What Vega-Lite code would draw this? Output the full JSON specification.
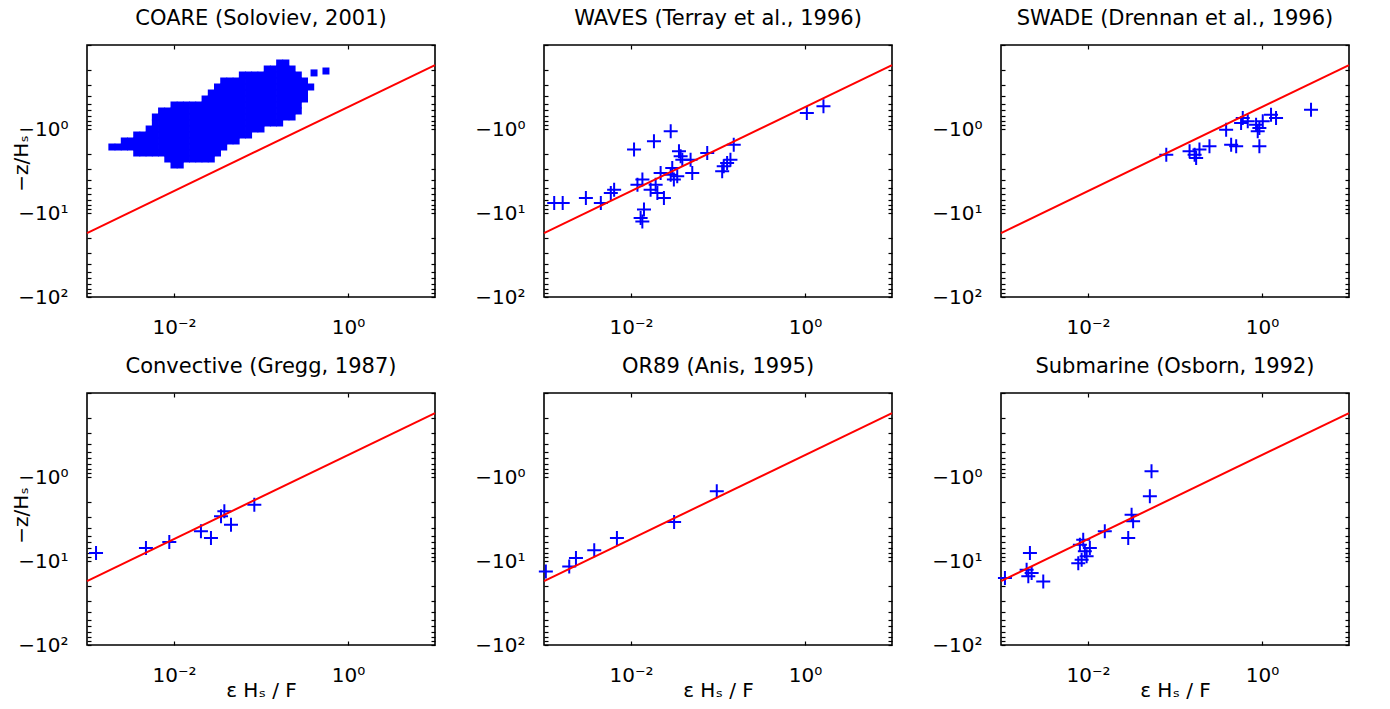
{
 "$schema": "https://vega.github.io/schema/vega-lite/v6.json",
 "padding": {"left": 10, "top": 7, "right": 0, "bottom": 0},
 "background": "white",
 "config": {
  "view": {"stroke": "black", "strokeWidth": 1.6},
  "axis": {"domain": false, "grid": false, "ticks": true, "tickSize": -4, "tickColor": "black", "tickWidth": 1.2,
           "labelFont": "DejaVu Sans", "labelFontSize": 20, "labelColor": "black", "labelOverlap": false,
           "titleFont": "DejaVu Sans", "titleFontSize": 20, "titleFontWeight": "normal", "titleColor": "black"},
  "axisX": {"labelPadding": 24},
  "axisY": {"labelPadding": 23},
  "title": {"font": "DejaVu Sans", "fontSize": 21, "fontWeight": "normal", "color": "black", "offset": 6, "anchor": "middle"}
 },
 "datasets": {
  "line": [{"x": 0.001, "y": 17.32}, {"x": 10, "y": 0.1732}],
  "pts": [
   {"p":"WAVES","x":0.00131,"y":7.6},{"p":"WAVES","x":0.00164,"y":7.6},{"p":"WAVES","x":0.00303,"y":6.63},{"p":"WAVES","x":0.0045,"y":7.6},
   {"p":"WAVES","x":0.00586,"y":5.78},{"p":"WAVES","x":0.0064,"y":5.27},{"p":"WAVES","x":0.01084,"y":1.76},{"p":"WAVES","x":0.01836,"y":1.40},
   {"p":"WAVES","x":0.0286,"y":1.06},{"p":"WAVES","x":0.01186,"y":4.6},{"p":"WAVES","x":0.01352,"y":4.0},{"p":"WAVES","x":0.0141,"y":9.1},
   {"p":"WAVES","x":0.0129,"y":11.5},{"p":"WAVES","x":0.0135,"y":12.6},{"p":"WAVES","x":0.0168,"y":5.27},{"p":"WAVES","x":0.0192,"y":4.6},
   {"p":"WAVES","x":0.0201,"y":5.78},{"p":"WAVES","x":0.0239,"y":6.63},{"p":"WAVES","x":0.0219,"y":3.34},{"p":"WAVES","x":0.0286,"y":3.5},
   {"p":"WAVES","x":0.0311,"y":4.0},{"p":"WAVES","x":0.034,"y":3.66},{"p":"WAVES","x":0.0298,"y":2.91},{"p":"WAVES","x":0.0356,"y":1.84},
   {"p":"WAVES","x":0.0372,"y":2.11},{"p":"WAVES","x":0.0389,"y":2.32},{"p":"WAVES","x":0.0484,"y":2.32},{"p":"WAVES","x":0.0506,"y":3.34},
   {"p":"WAVES","x":0.0752,"y":1.93},{"p":"WAVES","x":0.1164,"y":2.78},{"p":"WAVES","x":0.1273,"y":2.54},{"p":"WAVES","x":0.1117,"y":3.19},
   {"p":"WAVES","x":0.139,"y":2.32},{"p":"WAVES","x":0.1517,"y":1.54},{"p":"WAVES","x":1.05,"y":0.645},{"p":"WAVES","x":1.63,"y":0.537},
   {"p":"SWADE","x":0.0794,"y":2.02},{"p":"SWADE","x":0.147,"y":1.84},{"p":"SWADE","x":0.168,"y":2.02},{"p":"SWADE","x":0.175,"y":2.21},
   {"p":"SWADE","x":0.191,"y":1.76},{"p":"SWADE","x":0.249,"y":1.61},{"p":"SWADE","x":0.387,"y":1.02},{"p":"SWADE","x":0.442,"y":1.54},
   {"p":"SWADE","x":0.505,"y":1.61},{"p":"SWADE","x":0.601,"y":0.74},{"p":"SWADE","x":0.686,"y":0.81},{"p":"SWADE","x":0.575,"y":0.85},
   {"p":"SWADE","x":0.855,"y":0.889},{"p":"SWADE","x":0.933,"y":0.973},{"p":"SWADE","x":1.02,"y":0.81},{"p":"SWADE","x":0.893,"y":1.06},
   {"p":"SWADE","x":0.933,"y":1.61},{"p":"SWADE","x":1.27,"y":0.676},{"p":"SWADE","x":1.45,"y":0.74},{"p":"SWADE","x":3.66,"y":0.589},
   {"p":"CONV","x":0.00127,"y":8.03},{"p":"CONV","x":0.00476,"y":7.0},{"p":"CONV","x":0.00883,"y":5.94},{"p":"CONV","x":0.0204,"y":4.43},
   {"p":"CONV","x":0.0266,"y":5.32},{"p":"CONV","x":0.0347,"y":2.94},{"p":"CONV","x":0.0379,"y":2.56},{"p":"CONV","x":0.0452,"y":3.7},
   {"p":"CONV","x":0.0838,"y":2.14},
   {"p":"OR89","x":0.00105,"y":13.3},{"p":"OR89","x":0.00195,"y":11.6},{"p":"OR89","x":0.00233,"y":9.2},{"p":"OR89","x":0.00378,"y":7.47},
   {"p":"OR89","x":0.00689,"y":5.32},{"p":"OR89","x":0.0313,"y":3.44},{"p":"OR89","x":0.0968,"y":1.48},
   {"p":"SUB","x":0.00111,"y":15.9},{"p":"SUB","x":0.00215,"y":8.03},{"p":"SUB","x":0.00197,"y":12.7},{"p":"SUB","x":0.00225,"y":13.9},
   {"p":"SUB","x":0.00206,"y":15.2},{"p":"SUB","x":0.00306,"y":17.5},{"p":"SUB","x":0.00807,"y":6.4},{"p":"SUB","x":0.00881,"y":5.57},
   {"p":"SUB","x":0.00773,"y":10.6},{"p":"SUB","x":0.00845,"y":9.65},{"p":"SUB","x":0.00964,"y":8.79},{"p":"SUB","x":0.0105,"y":7.0},
   {"p":"SUB","x":0.0092,"y":7.67},{"p":"SUB","x":0.0156,"y":4.43},{"p":"SUB","x":0.029,"y":5.32},{"p":"SUB","x":0.0317,"y":2.81},
   {"p":"SUB","x":0.033,"y":3.37},{"p":"SUB","x":0.0514,"y":1.70},{"p":"SUB","x":0.0537,"y":0.855}
  ],
  "coare": [
   {"x":0.1638,"y":0.1638},{"x":0.1931,"y":0.1638},
   {"x":0.1179,"y":0.1931},{"x":0.1389,"y":0.1931},{"x":0.1638,"y":0.1931},{"x":0.1931,"y":0.1931},{"x":0.2276,"y":0.1931},
   {"x":0.06105,"y":0.2276},{"x":0.07197,"y":0.2276},{"x":0.08483,"y":0.2276},{"x":0.1,"y":0.2276},{"x":0.1179,"y":0.2276},{"x":0.1389,"y":0.2276},{"x":0.1638,"y":0.2276},{"x":0.1931,"y":0.2276},{"x":0.2276,"y":0.2276},{"x":0.2683,"y":0.2276},
   {"x":0.03728,"y":0.2683},{"x":0.04394,"y":0.2683},{"x":0.05179,"y":0.2683},{"x":0.06105,"y":0.2683},{"x":0.07197,"y":0.2683},{"x":0.08483,"y":0.2683},{"x":0.1,"y":0.2683},{"x":0.1179,"y":0.2683},{"x":0.1389,"y":0.2683},{"x":0.1638,"y":0.2683},{"x":0.1931,"y":0.2683},{"x":0.2276,"y":0.2683},{"x":0.2683,"y":0.2683},{"x":0.3162,"y":0.2683},
   {"x":0.03162,"y":0.3162},{"x":0.03728,"y":0.3162},{"x":0.04394,"y":0.3162},{"x":0.05179,"y":0.3162},{"x":0.06105,"y":0.3162},{"x":0.07197,"y":0.3162},{"x":0.08483,"y":0.3162},{"x":0.1,"y":0.3162},{"x":0.1179,"y":0.3162},{"x":0.1389,"y":0.3162},{"x":0.1638,"y":0.3162},{"x":0.1931,"y":0.3162},{"x":0.2276,"y":0.3162},{"x":0.2683,"y":0.3162},{"x":0.3162,"y":0.3162},{"x":0.3728,"y":0.3162},
   {"x":0.02683,"y":0.3728},{"x":0.03162,"y":0.3728},{"x":0.03728,"y":0.3728},{"x":0.04394,"y":0.3728},{"x":0.05179,"y":0.3728},{"x":0.06105,"y":0.3728},{"x":0.07197,"y":0.3728},{"x":0.08483,"y":0.3728},{"x":0.1,"y":0.3728},{"x":0.1179,"y":0.3728},{"x":0.1389,"y":0.3728},{"x":0.1638,"y":0.3728},{"x":0.1931,"y":0.3728},{"x":0.2276,"y":0.3728},{"x":0.2683,"y":0.3728},{"x":0.3162,"y":0.3728},
   {"x":0.02276,"y":0.4394},{"x":0.02683,"y":0.4394},{"x":0.03162,"y":0.4394},{"x":0.03728,"y":0.4394},{"x":0.04394,"y":0.4394},{"x":0.05179,"y":0.4394},{"x":0.06105,"y":0.4394},{"x":0.07197,"y":0.4394},{"x":0.08483,"y":0.4394},{"x":0.1,"y":0.4394},{"x":0.1179,"y":0.4394},{"x":0.1389,"y":0.4394},{"x":0.1638,"y":0.4394},{"x":0.1931,"y":0.4394},{"x":0.2276,"y":0.4394},{"x":0.2683,"y":0.4394},{"x":0.3162,"y":0.4394},
   {"x":0.01,"y":0.5179},{"x":0.01179,"y":0.5179},{"x":0.01389,"y":0.5179},{"x":0.01638,"y":0.5179},{"x":0.01931,"y":0.5179},{"x":0.02276,"y":0.5179},{"x":0.02683,"y":0.5179},{"x":0.03162,"y":0.5179},{"x":0.03728,"y":0.5179},{"x":0.04394,"y":0.5179},{"x":0.05179,"y":0.5179},{"x":0.06105,"y":0.5179},{"x":0.07197,"y":0.5179},{"x":0.08483,"y":0.5179},{"x":0.1,"y":0.5179},{"x":0.1179,"y":0.5179},{"x":0.1389,"y":0.5179},{"x":0.1638,"y":0.5179},{"x":0.1931,"y":0.5179},{"x":0.2276,"y":0.5179},{"x":0.2683,"y":0.5179},
   {"x":0.007197,"y":0.6105},{"x":0.008483,"y":0.6105},{"x":0.01,"y":0.6105},{"x":0.01179,"y":0.6105},{"x":0.01389,"y":0.6105},{"x":0.01638,"y":0.6105},{"x":0.01931,"y":0.6105},{"x":0.02276,"y":0.6105},{"x":0.02683,"y":0.6105},{"x":0.03162,"y":0.6105},{"x":0.03728,"y":0.6105},{"x":0.04394,"y":0.6105},{"x":0.05179,"y":0.6105},{"x":0.06105,"y":0.6105},{"x":0.07197,"y":0.6105},{"x":0.08483,"y":0.6105},{"x":0.1,"y":0.6105},{"x":0.1179,"y":0.6105},{"x":0.1389,"y":0.6105},{"x":0.1638,"y":0.6105},{"x":0.1931,"y":0.6105},{"x":0.2276,"y":0.6105},{"x":0.2683,"y":0.6105},
   {"x":0.006105,"y":0.7197},{"x":0.007197,"y":0.7197},{"x":0.008483,"y":0.7197},{"x":0.01,"y":0.7197},{"x":0.01179,"y":0.7197},{"x":0.01389,"y":0.7197},{"x":0.01638,"y":0.7197},{"x":0.01931,"y":0.7197},{"x":0.02276,"y":0.7197},{"x":0.02683,"y":0.7197},{"x":0.03162,"y":0.7197},{"x":0.03728,"y":0.7197},{"x":0.04394,"y":0.7197},{"x":0.05179,"y":0.7197},{"x":0.06105,"y":0.7197},{"x":0.07197,"y":0.7197},{"x":0.08483,"y":0.7197},{"x":0.1,"y":0.7197},{"x":0.1179,"y":0.7197},{"x":0.1389,"y":0.7197},{"x":0.1638,"y":0.7197},{"x":0.1931,"y":0.7197},{"x":0.2276,"y":0.7197},
   {"x":0.006105,"y":0.8483},{"x":0.007197,"y":0.8483},{"x":0.008483,"y":0.8483},{"x":0.01,"y":0.8483},{"x":0.01179,"y":0.8483},{"x":0.01389,"y":0.8483},{"x":0.01638,"y":0.8483},{"x":0.01931,"y":0.8483},{"x":0.02276,"y":0.8483},{"x":0.02683,"y":0.8483},{"x":0.03162,"y":0.8483},{"x":0.03728,"y":0.8483},{"x":0.04394,"y":0.8483},{"x":0.05179,"y":0.8483},{"x":0.06105,"y":0.8483},{"x":0.07197,"y":0.8483},{"x":0.08483,"y":0.8483},{"x":0.1,"y":0.8483},{"x":0.1179,"y":0.8483},{"x":0.1389,"y":0.8483},{"x":0.1638,"y":0.8483},
   {"x":0.005179,"y":1},{"x":0.006105,"y":1},{"x":0.007197,"y":1},{"x":0.008483,"y":1},{"x":0.01,"y":1},{"x":0.01179,"y":1},{"x":0.01389,"y":1},{"x":0.01638,"y":1},{"x":0.01931,"y":1},{"x":0.02276,"y":1},{"x":0.02683,"y":1},{"x":0.03162,"y":1},{"x":0.03728,"y":1},{"x":0.04394,"y":1},{"x":0.05179,"y":1},{"x":0.06105,"y":1},{"x":0.07197,"y":1},{"x":0.08483,"y":1},{"x":0.1,"y":1},
   {"x":0.003728,"y":1.179},{"x":0.004394,"y":1.179},{"x":0.005179,"y":1.179},{"x":0.006105,"y":1.179},{"x":0.007197,"y":1.179},{"x":0.008483,"y":1.179},{"x":0.01,"y":1.179},{"x":0.01179,"y":1.179},{"x":0.01389,"y":1.179},{"x":0.01638,"y":1.179},{"x":0.01931,"y":1.179},{"x":0.02276,"y":1.179},{"x":0.02683,"y":1.179},{"x":0.03162,"y":1.179},{"x":0.03728,"y":1.179},{"x":0.04394,"y":1.179},{"x":0.05179,"y":1.179},{"x":0.06105,"y":1.179},{"x":0.07197,"y":1.179},
   {"x":0.002683,"y":1.389},{"x":0.003162,"y":1.389},{"x":0.003728,"y":1.389},{"x":0.004394,"y":1.389},{"x":0.005179,"y":1.389},{"x":0.006105,"y":1.389},{"x":0.007197,"y":1.389},{"x":0.008483,"y":1.389},{"x":0.01,"y":1.389},{"x":0.01179,"y":1.389},{"x":0.01389,"y":1.389},{"x":0.01638,"y":1.389},{"x":0.01931,"y":1.389},{"x":0.02276,"y":1.389},{"x":0.02683,"y":1.389},{"x":0.03162,"y":1.389},{"x":0.03728,"y":1.389},{"x":0.04394,"y":1.389},{"x":0.05179,"y":1.389},
   {"x":0.001931,"y":1.638},{"x":0.002276,"y":1.638},{"x":0.002683,"y":1.638},{"x":0.003162,"y":1.638},{"x":0.003728,"y":1.638},{"x":0.004394,"y":1.638},{"x":0.005179,"y":1.638},{"x":0.006105,"y":1.638},{"x":0.007197,"y":1.638},{"x":0.008483,"y":1.638},{"x":0.01,"y":1.638},{"x":0.01179,"y":1.638},{"x":0.01389,"y":1.638},{"x":0.01638,"y":1.638},{"x":0.01931,"y":1.638},{"x":0.02276,"y":1.638},{"x":0.02683,"y":1.638},{"x":0.03162,"y":1.638},{"x":0.03728,"y":1.638},
   {"x":0.003728,"y":1.931},{"x":0.004394,"y":1.931},{"x":0.005179,"y":1.931},{"x":0.006105,"y":1.931},{"x":0.007197,"y":1.931},{"x":0.008483,"y":1.931},{"x":0.01,"y":1.931},{"x":0.01179,"y":1.931},{"x":0.01389,"y":1.931},{"x":0.01638,"y":1.931},{"x":0.01931,"y":1.931},{"x":0.02276,"y":1.931},{"x":0.02683,"y":1.931},{"x":0.03162,"y":1.931},
   {"x":0.008483,"y":2.276},{"x":0.01,"y":2.276},{"x":0.01179,"y":2.276},{"x":0.01389,"y":2.276},{"x":0.01638,"y":2.276},{"x":0.01931,"y":2.276},{"x":0.02276,"y":2.276},{"x":0.02683,"y":2.276},
   {"x":0.01,"y":2.683},{"x":0.01179,"y":2.683},
   {"x":0.407,"y":0.215},{"x":0.558,"y":0.204}
  ]
 },
 "columns": 3,
 "bounds": "flush",
 "spacing": {"row": 96, "column": 109},
 "concat": [
  {"width": 348, "height": 252, "title": "COARE (Soloviev, 2001)",
   "resolve": {"axis": {"x": "independent", "y": "independent"}},
   "layer": [
    {"data": {"name": "coare"}, "mark": {"type": "point", "shape": "square", "size": 49, "filled": true, "color": "#0000ff", "opacity": 1, "strokeWidth": 0},
     "encoding": {
      "x": {"field": "x", "type": "quantitative", "scale": {"type": "log", "domain": [0.001, 10], "nice": false}, "axis": {"orient": "bottom", "values": [0.01, 1], "labelExpr": "datum.value < 0.1 ? '10⁻²' : '10⁰'", "title": null}},
      "y": {"field": "y", "type": "quantitative", "scale": {"type": "log", "domain": [0.1, 100], "nice": false, "reverse": true}, "axis": {"orient": "left", "values": [0.1,0.2,0.3,0.4,0.5,0.6,0.7,0.8,0.9,1,2,3,4,5,6,7,8,9,10,20,30,40,50,60,70,80,90,100], "labelExpr": "datum.value == 1 ? '−10⁰' : datum.value == 10 ? '−10¹' : datum.value == 100 ? '−10²' : ''", "title": "−z/Hₛ", "titleX": -66, "titleY": 118, "titleAngle": -90, "titleAlign": "center", "titleBaseline": "middle"}}}},
    {"data": {"name": "line"}, "mark": {"type": "line", "color": "#ff0000", "strokeWidth": 2},
     "encoding": {
      "x": {"field": "x", "type": "quantitative", "scale": {"type": "log", "domain": [0.001, 10], "nice": false}, "axis": {"orient": "top", "values": [0.01, 1], "labels": false, "title": null}},
      "y": {"field": "y", "type": "quantitative", "scale": {"type": "log", "domain": [0.1, 100], "nice": false, "reverse": true}, "axis": {"orient": "right", "values": [0.1,0.2,0.3,0.4,0.5,0.6,0.7,0.8,0.9,1,2,3,4,5,6,7,8,9,10,20,30,40,50,60,70,80,90,100], "labels": false, "title": null}}}}
   ]},
  {"width": 348, "height": 252, "title": "WAVES (Terray et al., 1996)",
   "resolve": {"axis": {"x": "independent", "y": "independent"}},
   "layer": [
    {"data": {"name": "pts"}, "transform": [{"filter": "datum.p == 'WAVES'"}], "mark": {"type": "point", "shape": "M-1,0L1,0M0,-1L0,1", "size": 196, "filled": false, "color": "#0000ff", "strokeWidth": 2, "opacity": 1},
     "encoding": {
      "x": {"field": "x", "type": "quantitative", "scale": {"type": "log", "domain": [0.001, 10], "nice": false}, "axis": {"orient": "bottom", "values": [0.01, 1], "labelExpr": "datum.value < 0.1 ? '10⁻²' : '10⁰'", "title": null}},
      "y": {"field": "y", "type": "quantitative", "scale": {"type": "log", "domain": [0.1, 100], "nice": false, "reverse": true}, "axis": {"orient": "left", "values": [0.1,0.2,0.3,0.4,0.5,0.6,0.7,0.8,0.9,1,2,3,4,5,6,7,8,9,10,20,30,40,50,60,70,80,90,100], "labelExpr": "datum.value == 1 ? '−10⁰' : datum.value == 10 ? '−10¹' : datum.value == 100 ? '−10²' : ''", "title": null}}}},
    {"data": {"name": "line"}, "mark": {"type": "line", "color": "#ff0000", "strokeWidth": 2},
     "encoding": {
      "x": {"field": "x", "type": "quantitative", "scale": {"type": "log", "domain": [0.001, 10], "nice": false}, "axis": {"orient": "top", "values": [0.01, 1], "labels": false, "title": null}},
      "y": {"field": "y", "type": "quantitative", "scale": {"type": "log", "domain": [0.1, 100], "nice": false, "reverse": true}, "axis": {"orient": "right", "values": [0.1,0.2,0.3,0.4,0.5,0.6,0.7,0.8,0.9,1,2,3,4,5,6,7,8,9,10,20,30,40,50,60,70,80,90,100], "labels": false, "title": null}}}}
   ]},
  {"width": 348, "height": 252, "title": "SWADE (Drennan et al., 1996)",
   "resolve": {"axis": {"x": "independent", "y": "independent"}},
   "layer": [
    {"data": {"name": "pts"}, "transform": [{"filter": "datum.p == 'SWADE'"}], "mark": {"type": "point", "shape": "M-1,0L1,0M0,-1L0,1", "size": 196, "filled": false, "color": "#0000ff", "strokeWidth": 2, "opacity": 1},
     "encoding": {
      "x": {"field": "x", "type": "quantitative", "scale": {"type": "log", "domain": [0.001, 10], "nice": false}, "axis": {"orient": "bottom", "values": [0.01, 1], "labelExpr": "datum.value < 0.1 ? '10⁻²' : '10⁰'", "title": null}},
      "y": {"field": "y", "type": "quantitative", "scale": {"type": "log", "domain": [0.1, 100], "nice": false, "reverse": true}, "axis": {"orient": "left", "values": [0.1,0.2,0.3,0.4,0.5,0.6,0.7,0.8,0.9,1,2,3,4,5,6,7,8,9,10,20,30,40,50,60,70,80,90,100], "labelExpr": "datum.value == 1 ? '−10⁰' : datum.value == 10 ? '−10¹' : datum.value == 100 ? '−10²' : ''", "title": null}}}},
    {"data": {"name": "line"}, "mark": {"type": "line", "color": "#ff0000", "strokeWidth": 2},
     "encoding": {
      "x": {"field": "x", "type": "quantitative", "scale": {"type": "log", "domain": [0.001, 10], "nice": false}, "axis": {"orient": "top", "values": [0.01, 1], "labels": false, "title": null}},
      "y": {"field": "y", "type": "quantitative", "scale": {"type": "log", "domain": [0.1, 100], "nice": false, "reverse": true}, "axis": {"orient": "right", "values": [0.1,0.2,0.3,0.4,0.5,0.6,0.7,0.8,0.9,1,2,3,4,5,6,7,8,9,10,20,30,40,50,60,70,80,90,100], "labels": false, "title": null}}}}
   ]},
  {"width": 348, "height": 252, "title": "Convective (Gregg, 1987)",
   "resolve": {"axis": {"x": "independent", "y": "independent"}},
   "layer": [
    {"data": {"name": "pts"}, "transform": [{"filter": "datum.p == 'CONV'"}], "mark": {"type": "point", "shape": "M-1,0L1,0M0,-1L0,1", "size": 196, "filled": false, "color": "#0000ff", "strokeWidth": 2, "opacity": 1},
     "encoding": {
      "x": {"field": "x", "type": "quantitative", "scale": {"type": "log", "domain": [0.001, 10], "nice": false}, "axis": {"orient": "bottom", "values": [0.01, 1], "labelExpr": "datum.value < 0.1 ? '10⁻²' : '10⁰'", "title": "ε Hₛ / F", "titleX": 174, "titleY": 45, "titleBaseline": "middle"}},
      "y": {"field": "y", "type": "quantitative", "scale": {"type": "log", "domain": [0.1, 100], "nice": false, "reverse": true}, "axis": {"orient": "left", "values": [0.1,0.2,0.3,0.4,0.5,0.6,0.7,0.8,0.9,1,2,3,4,5,6,7,8,9,10,20,30,40,50,60,70,80,90,100], "labelExpr": "datum.value == 1 ? '−10⁰' : datum.value == 10 ? '−10¹' : datum.value == 100 ? '−10²' : ''", "title": "−z/Hₛ", "titleX": -66, "titleY": 122, "titleAngle": -90, "titleAlign": "center", "titleBaseline": "middle"}}}},
    {"data": {"name": "line"}, "mark": {"type": "line", "color": "#ff0000", "strokeWidth": 2},
     "encoding": {
      "x": {"field": "x", "type": "quantitative", "scale": {"type": "log", "domain": [0.001, 10], "nice": false}, "axis": {"orient": "top", "values": [0.01, 1], "labels": false, "title": null}},
      "y": {"field": "y", "type": "quantitative", "scale": {"type": "log", "domain": [0.1, 100], "nice": false, "reverse": true}, "axis": {"orient": "right", "values": [0.1,0.2,0.3,0.4,0.5,0.6,0.7,0.8,0.9,1,2,3,4,5,6,7,8,9,10,20,30,40,50,60,70,80,90,100], "labels": false, "title": null}}}}
   ]},
  {"width": 348, "height": 252, "title": "OR89 (Anis, 1995)",
   "resolve": {"axis": {"x": "independent", "y": "independent"}},
   "layer": [
    {"data": {"name": "pts"}, "transform": [{"filter": "datum.p == 'OR89'"}], "mark": {"type": "point", "shape": "M-1,0L1,0M0,-1L0,1", "size": 196, "filled": false, "color": "#0000ff", "strokeWidth": 2, "opacity": 1},
     "encoding": {
      "x": {"field": "x", "type": "quantitative", "scale": {"type": "log", "domain": [0.001, 10], "nice": false}, "axis": {"orient": "bottom", "values": [0.01, 1], "labelExpr": "datum.value < 0.1 ? '10⁻²' : '10⁰'", "title": "ε Hₛ / F", "titleX": 174, "titleY": 45, "titleBaseline": "middle"}},
      "y": {"field": "y", "type": "quantitative", "scale": {"type": "log", "domain": [0.1, 100], "nice": false, "reverse": true}, "axis": {"orient": "left", "values": [0.1,0.2,0.3,0.4,0.5,0.6,0.7,0.8,0.9,1,2,3,4,5,6,7,8,9,10,20,30,40,50,60,70,80,90,100], "labelExpr": "datum.value == 1 ? '−10⁰' : datum.value == 10 ? '−10¹' : datum.value == 100 ? '−10²' : ''", "title": null}}}},
    {"data": {"name": "line"}, "mark": {"type": "line", "color": "#ff0000", "strokeWidth": 2},
     "encoding": {
      "x": {"field": "x", "type": "quantitative", "scale": {"type": "log", "domain": [0.001, 10], "nice": false}, "axis": {"orient": "top", "values": [0.01, 1], "labels": false, "title": null}},
      "y": {"field": "y", "type": "quantitative", "scale": {"type": "log", "domain": [0.1, 100], "nice": false, "reverse": true}, "axis": {"orient": "right", "values": [0.1,0.2,0.3,0.4,0.5,0.6,0.7,0.8,0.9,1,2,3,4,5,6,7,8,9,10,20,30,40,50,60,70,80,90,100], "labels": false, "title": null}}}}
   ]},
  {"width": 348, "height": 252, "title": "Submarine (Osborn, 1992)",
   "resolve": {"axis": {"x": "independent", "y": "independent"}},
   "layer": [
    {"data": {"name": "pts"}, "transform": [{"filter": "datum.p == 'SUB'"}], "mark": {"type": "point", "shape": "M-1,0L1,0M0,-1L0,1", "size": 196, "filled": false, "color": "#0000ff", "strokeWidth": 2, "opacity": 1},
     "encoding": {
      "x": {"field": "x", "type": "quantitative", "scale": {"type": "log", "domain": [0.001, 10], "nice": false}, "axis": {"orient": "bottom", "values": [0.01, 1], "labelExpr": "datum.value < 0.1 ? '10⁻²' : '10⁰'", "title": "ε Hₛ / F", "titleX": 174, "titleY": 45, "titleBaseline": "middle"}},
      "y": {"field": "y", "type": "quantitative", "scale": {"type": "log", "domain": [0.1, 100], "nice": false, "reverse": true}, "axis": {"orient": "left", "values": [0.1,0.2,0.3,0.4,0.5,0.6,0.7,0.8,0.9,1,2,3,4,5,6,7,8,9,10,20,30,40,50,60,70,80,90,100], "labelExpr": "datum.value == 1 ? '−10⁰' : datum.value == 10 ? '−10¹' : datum.value == 100 ? '−10²' : ''", "title": null}}}},
    {"data": {"name": "line"}, "mark": {"type": "line", "color": "#ff0000", "strokeWidth": 2},
     "encoding": {
      "x": {"field": "x", "type": "quantitative", "scale": {"type": "log", "domain": [0.001, 10], "nice": false}, "axis": {"orient": "top", "values": [0.01, 1], "labels": false, "title": null}},
      "y": {"field": "y", "type": "quantitative", "scale": {"type": "log", "domain": [0.1, 100], "nice": false, "reverse": true}, "axis": {"orient": "right", "values": [0.1,0.2,0.3,0.4,0.5,0.6,0.7,0.8,0.9,1,2,3,4,5,6,7,8,9,10,20,30,40,50,60,70,80,90,100], "labels": false, "title": null}}}}
   ]}
 ]
}
